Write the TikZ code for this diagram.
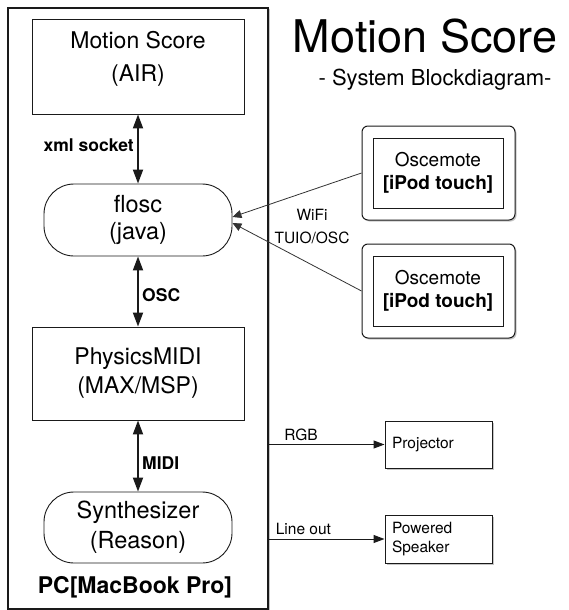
\documentclass[tikz,border=0pt]{standalone}
\usepackage{fontspec}
\setmainfont{TeX Gyre Heros}
\usepackage{tikz}
\usetikzlibrary{arrows.meta, shadows}
\definecolor{boxedge}{HTML}{1A1A1A}
\definecolor{boxfill}{HTML}{FFFFFF}
\definecolor{shadowgray}{HTML}{8C8C8C}
\definecolor{linkedge}{HTML}{333333}

\begin{document}
\begin{tikzpicture}[x=1pt, y=-1pt,
  pcbox/.style={rectangle, draw=boxedge, line width=1.4pt, fill=boxfill,
                minimum width=260pt, minimum height=601pt,
                drop shadow={shadow xshift=1.5pt, shadow yshift=-1.5pt, fill=shadowgray, opacity=0.5}},
  swbox/.style={rectangle, draw=boxedge, line width=0.9pt, fill=boxfill,
                minimum width=212pt, align=center, font=\fontsize{23}{30}\selectfont},
  swpill/.style={rectangle, rounded corners=30pt, draw=boxedge, line width=0.9pt, fill=boxfill,
                minimum width=188pt, minimum height=72pt, align=center,
                font=\fontsize{23.5}{27}\selectfont},
  remote/.style={rectangle, rounded corners=6pt, draw=boxedge, line width=1pt, fill=boxfill,
                minimum width=153pt, minimum height=94pt,
                drop shadow={shadow xshift=1.5pt, shadow yshift=-1.5pt, fill=shadowgray, opacity=0.5}},
  remotein/.style={rectangle, draw=boxedge, line width=0.9pt, minimum width=130pt,
                minimum height=70pt, align=center, font=\fontsize{19}{23}\selectfont},
  outbox/.style={rectangle, draw=boxedge, line width=1pt, fill=boxfill,
                minimum width=107pt, text width=93pt, align=left, inner xsep=7pt,
                font=\fontsize{15.5}{19}\selectfont,
                drop shadow={shadow xshift=1.5pt, shadow yshift=-1.5pt, fill=shadowgray, opacity=0.5}},
  duplex/.style={draw=boxedge, line width=1.8pt, {Triangle[length=14pt, width=10pt]}-{Triangle[length=14pt, width=10pt]}},
  wifi/.style={draw=linkedge, line width=0.8pt, -{Triangle[length=9pt, width=8pt]}},
  outlink/.style={draw=boxedge, line width=1pt, -{Triangle[length=11pt, width=8pt]}},
  lab/.style={font=\fontsize{17.5}{20}\selectfont\bfseries},
  olab/.style={font=\fontsize{15.5}{18}\selectfont},
]
\useasboundingbox (0,0) rectangle (569,610);
% ================= title ====================================================
\node[font=\fontsize{45}{50}\selectfont] (title) at (425, 36) {Motion Score};
\node[font=\fontsize{22}{26}\selectfont] (subtitle) at (435, 80) {- System Blockdiagram-};
% ================= PC column (left) =========================================
\node[pcbox] (pc) at (138, 308.5) {};
\node[font=\fontsize{23}{26}\selectfont\bfseries] (pcname) at (135, 587) {PC[MacBook Pro]};
\node[swbox, minimum height=95pt, font=\fontsize{23}{33}\selectfont, text depth=20pt] (air) at (138, 66.5) {Motion Score\\(AIR)};
\node[swpill] (flosc) at (138, 220) {flosc\\(java)};
\node[swbox, minimum height=93pt, font=\fontsize{23}{29}\selectfont] (physmidi) at (138, 373.5) {PhysicsMIDI\\(MAX/MSP)};
\node[swpill, minimum height=71pt, font=\fontsize{23.5}{30}\selectfont] (synth) at (138, 527.5) {Synthesizer\\(Reason)};
\draw[duplex] (air.south) -- node[left, lab, pos=0.45] {xml socket} (flosc.north);
\draw[duplex] (flosc.south) -- node[right, lab, pos=0.55] {OSC} (physmidi.north);
\draw[duplex] (physmidi.south) -- node[right, lab, pos=0.6] {MIDI} (synth.north);
% ================= Oscemote remotes (right) =================================
\node[remote] (osc1) at (438.5, 173) {};
\node[remotein] (osc1in) at (438, 173) {Oscemote\\\textbf{[iPod touch]}};
\node[remote] (osc2) at (438.5, 291) {};
\node[remotein] (osc2in) at (438, 291) {Oscemote\\\textbf{[iPod touch]}};
\draw[wifi] (osc1.west) -- ([yshift=3pt]flosc.east);
\draw[wifi] (osc2.west) -- ([yshift=-3pt]flosc.east);
\node[align=center, font=\fontsize{15.5}{23}\selectfont] (wifi) at (312, 226.5) {WiFi\\TUIO/OSC};
% ================= outputs ==================================================
\node[outbox, minimum height=47pt] (proj) at (438.5, 444.5) {Projector};
\node[outbox, minimum height=48pt] (speaker) at (438.5, 539) {Powered\\Speaker};
\draw[outlink] (pc.east |- proj.west) -- node[above, pos=0.28, olab] {RGB} (proj.west);
\draw[outlink] (pc.east |- speaker.west) -- node[above, pos=0.3, olab] {Line out} (speaker.west);
\end{tikzpicture}
\end{document}
